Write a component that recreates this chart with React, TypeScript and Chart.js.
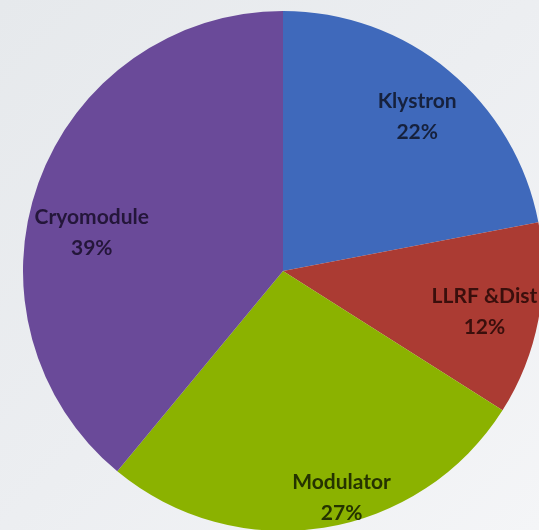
import React, { useEffect, useRef } from "react";
import { Chart, registerables } from "chart.js";

Chart.register(...registerables);

const categories = ["Klystron", "LLRF &Dist", "Modulator", "Cryomodule"];
const shares = [22, 12, 27, 39];
const sliceColors = ["#3f69bb", "#ab3b33", "#8bb200", "#6a4a99"];
const labelColors = ["#16213d", "#3a0f0c", "#253300", "#24163a"];

// label placement inside each slice: fraction of radius, angle nudge in degrees
const labelRadius = [0.785, 0.79, 0.9, 0.75];
const labelNudge = [1.5, 0.5, -5.5, -8.5];

const sliceLabels = {
  id: "sliceLabels",
  afterDatasetsDraw(chart: any) {
    const { ctx } = chart;
    const meta = chart.getDatasetMeta(0);
    ctx.save();
    ctx.textAlign = "center";
    ctx.textBaseline = "middle";
    ctx.font = "bold 21px Lato, 'Open Sans', sans-serif";
    meta.data.forEach((arc: any, i: number) => {
      const { x, y, startAngle, endAngle, outerRadius } = arc.getProps(
        ["x", "y", "startAngle", "endAngle", "outerRadius"],
        true
      );
      const mid = (startAngle + endAngle) / 2 + (labelNudge[i] * Math.PI) / 180;
      const r = outerRadius * labelRadius[i];
      const cx = x + Math.cos(mid) * r;
      const cy = y + Math.sin(mid) * r;
      ctx.fillStyle = labelColors[i];
      ctx.fillText(categories[i], cx, cy - 15.5);
      ctx.fillText(shares[i] + "%", cx, cy + 15.5);
    });
    ctx.restore();
  },
};

export default function App() {
  const canvasRef = useRef<HTMLCanvasElement | null>(null);

  useEffect(() => {
    if (!canvasRef.current) return;
    const chart = new Chart(canvasRef.current, {
      type: "pie",
      data: {
        labels: categories,
        datasets: [
          {
            data: shares,
            backgroundColor: sliceColors,
            borderWidth: 0,
          },
        ],
      },
      options: {
        animation: false,
        responsive: false,
        layout: { padding: 0 },
        plugins: {
          legend: { display: false },
          tooltip: { enabled: false },
        },
      },
      plugins: [sliceLabels],
    });
    return () => chart.destroy();
  }, []);

  return (
    <div
      style={{
        position: "fixed",
        left: 0,
        top: 0,
        width: 539,
        height: 530,
        overflow: "hidden",
        background: "linear-gradient(135deg, #e6e9ec 0%, #eceef1 50%, #f4f5f7 100%)",
      }}
    >
      <canvas
        ref={canvasRef}
        width={520}
        height={520}
        style={{ position: "absolute", left: 23, top: 11, width: 520, height: 520 }}
      />
    </div>
  );
}
